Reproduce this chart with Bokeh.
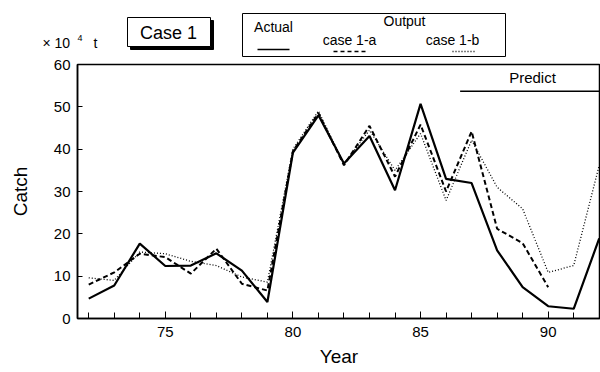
from bokeh.plotting import figure
from bokeh.layouts import column
from bokeh.models import Range1d, FixedTicker, Label
from bokeh.core.properties import value
from bokeh.embed import file_html
from bokeh.resources import INLINE

# ---- data ----
years = list(range(72, 93))
actual = [4.7, 7.8, 17.7, 12.4, 12.5, 15.4, 11.3, 3.9, 39.2, 48.0, 36.6,
          43.1, 30.3, 50.7, 33.0, 32.0, 16.1, 7.4, 2.9, 2.3, 18.9]
years_a = list(range(72, 91))
case1a = [8.0, 10.9, 15.3, 14.5, 10.6, 16.5, 8.2, 6.6, 39.5, 48.5, 36.2,
          45.5, 33.5, 45.8, 30.0, 44.2, 21.2, 17.8, 7.4]
case1b = [9.6, 9.0, 15.7, 15.3, 13.5, 12.5, 9.8, 8.6, 40.0, 49.0, 36.5,
          44.5, 35.0, 43.7, 27.9, 42.1, 31.0, 25.9, 10.9, 12.5, 36.2]
x_ticks = [75, 80, 85, 90]
y_ticks = [0, 10, 20, 30, 40, 50, 60]
predict_from = 86.55
predict_level = 53.7

FONT = "Liberation Sans"
W = 600
HEAD_H = 57          # header strip height (canvas px)
FL, FB = 77, 318     # frame left / bottom in full-canvas px

# ---------------- header strip (unit label, Case box, legend) ----------------
h = figure(width=W, height=HEAD_H, x_range=Range1d(0, W), y_range=Range1d(HEAD_H, 0),
           output_backend="svg", toolbar_location=None,
           x_axis_location=None, y_axis_location=None,
           min_border_left=0, min_border_right=0, min_border_top=0, min_border_bottom=0)
h.frame_align = False
h.grid.visible = False
h.outline_line_color = None
h.background_fill_color = "white"
h.border_fill_color = "white"

# unit label "× 10^4 t"
h.text(x=[42], y=[42], text=["× 10"], text_font=value(FONT), text_font_size="14px",
       text_align="left", text_baseline="middle", text_color="black")
h.text(x=[77], y=[37], text=["4"], text_font=value(FONT), text_font_size="9px",
       text_align="left", text_baseline="middle", text_color="black")
h.text(x=[93], y=[42], text=["t"], text_font=value(FONT), text_font_size="14px",
       text_align="left", text_baseline="middle", text_color="black")

# "Case 1" box with drop shadow
h.quad(left=[130], right=[213], top=[20], bottom=[49], fill_color="black",
       line_color="black")
h.quad(left=[127], right=[210], top=[17], bottom=[46], fill_color="white",
       line_color="black", line_width=1)
h.text(x=[168], y=[32], text=["Case 1"], text_font=value(FONT), text_font_size="18px",
       text_align="center", text_baseline="middle", text_color="black")

# legend box
h.quad(left=[242], right=[505], top=[13], bottom=[56], fill_color="white",
       line_color="black", line_width=1)
h.text(x=[273, 404, 349, 452], y=[26, 20, 39, 39],
       text=["Actual", "Output", "case 1-a", "case 1-b"],
       text_font=value(FONT), text_font_size="14px",
       text_align="center", text_baseline="middle", text_color="black")
h.segment(x0=[257], y0=[49], x1=[289], y1=[49], line_color="black", line_width=1.5)
h.segment(x0=[333], y0=[51], x1=[367], y1=[51], line_color="black", line_width=1.5,
          line_dash="4 3")
h.segment(x0=[452], y0=[51], x1=[474], y1=[51], line_color="black", line_width=1.3,
          line_dash="1 2")

# ---------------- main chart ----------------
p = figure(width=W, height=372 - HEAD_H, x_range=Range1d(71.56, 92.05),
           y_range=Range1d(0, 60), output_backend="svg", toolbar_location=None,
           min_border_left=FL, min_border_right=0, min_border_top=64 - HEAD_H,
           min_border_bottom=372 - FB)
p.frame_align = False
p.grid.visible = False
p.outline_line_color = "black"
p.outline_line_width = 1.5
p.background_fill_color = "white"
p.border_fill_color = "white"

p.xaxis.ticker = FixedTicker(ticks=x_ticks, minor_ticks=years)
p.xaxis.major_tick_in = 7
p.xaxis.major_tick_out = 0
p.xaxis.minor_tick_in = 6
p.xaxis.minor_tick_out = 0
p.xaxis.axis_label = "Year"
p.yaxis.ticker = FixedTicker(ticks=y_ticks, minor_ticks=[])
p.yaxis.major_tick_in = 5
p.yaxis.major_tick_out = 0
p.yaxis.minor_tick_in = 0
p.yaxis.minor_tick_out = 0
p.yaxis.axis_label = "Catch"
for ax in (p.xaxis, p.yaxis):
    ax.axis_line_width = 1.5
    ax.axis_line_color = "black"
    ax.major_tick_line_color = "black"
    ax.minor_tick_line_color = "black"
    ax.major_label_text_font = FONT
    ax.major_label_text_font_size = "15px"
    ax.major_label_text_color = "black"
    ax.axis_label_text_font = FONT
    ax.axis_label_text_font_size = "19px"
    ax.axis_label_text_font_style = "normal"
    ax.axis_label_text_color = "black"
p.yaxis.major_label_standoff = 7
p.yaxis.axis_label_standoff = 20
p.xaxis.major_label_standoff = 8
p.xaxis.axis_label_standoff = 6

# series
p.line(years, actual, line_color="black", line_width=2.2)
p.line(years_a, case1a, line_color="black", line_width=2, line_dash="5 3")
p.line(years, case1b, line_color="black", line_width=1.3, line_dash="1 2")

# predict annotation
p.segment(x0=[predict_from], y0=[predict_level], x1=[92.05], y1=[predict_level],
          line_color="black", line_width=1.5)
p.add_layout(Label(x=532 - FL, y=FB - 77, x_units="screen", y_units="screen",
                   text="Predict", text_font=FONT, text_font_size="15px",
                   text_align="center", text_baseline="middle", text_color="black"))

open("out.html", "w").write(file_html(column(h, p, spacing=0), INLINE))
